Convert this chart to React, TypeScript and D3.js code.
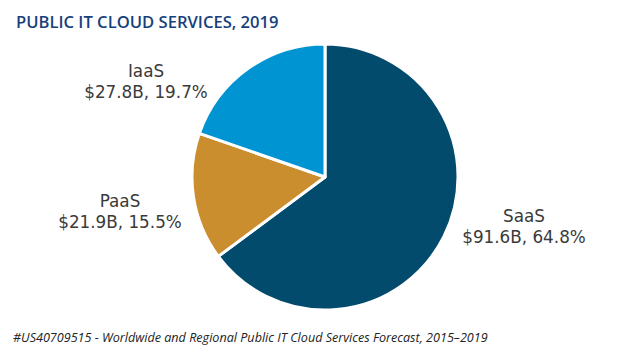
import React from "react";
import * as d3 from "d3";

const categories = ["SaaS", "PaaS", "IaaS"];
const values = [91.6, 21.9, 27.8];
const valueLabels = ["$91.6B, 64.8%", "$21.9B, 15.5%", "$27.8B, 19.7%"];
const colors = ["#024B6C", "#CB8E2E", "#0194D3"];
const labelPos: [number, number][] = [[524, 222], [120, 207], [146, 77]];

export default function App() {
  const W = 619, H = 357;
  const cx = 325, cy = 177, r = 133;
  const pie = d3.pie<number>().sort(null).value((d) => d)(values);
  const arc = d3.arc<d3.PieArcDatum<number>>().innerRadius(0).outerRadius(r);
  return (
    <svg width={W} height={H} style={{ position: "absolute", left: 0, top: 0, background: "#fff" }}>
      <text x={16} y={28} fontFamily="'Open Sans', sans-serif" fontSize={16.6} fontWeight={600} fill="#173F7B">
        PUBLIC IT CLOUD SERVICES, 2019
      </text>
      <g transform={`translate(${cx},${cy})`}>
        {pie.map((p, i) => (
          <path key={i} d={arc(p) || ""} fill={colors[i]} stroke="#fff" strokeWidth={3} strokeLinejoin="round" />
        ))}
      </g>
      {categories.map((c, i) => (
        <text key={c} x={labelPos[i][0]} y={labelPos[i][1]} textAnchor="middle" fontFamily="'DejaVu Sans', sans-serif" fontSize={16.8} fill="#3A3A3A">
          <tspan x={labelPos[i][0]}>{c}</tspan>
          <tspan x={labelPos[i][0]} dy={21}>{valueLabels[i]}</tspan>
        </text>
      ))}
      <text x={13} y={342} fontFamily="'Open Sans', sans-serif" fontStyle="italic" fontSize={12.6} fill="#222">
        #US40709515 - Worldwide and Regional Public IT Cloud Services Forecast, 2015–2019
      </text>
    </svg>
  );
}
